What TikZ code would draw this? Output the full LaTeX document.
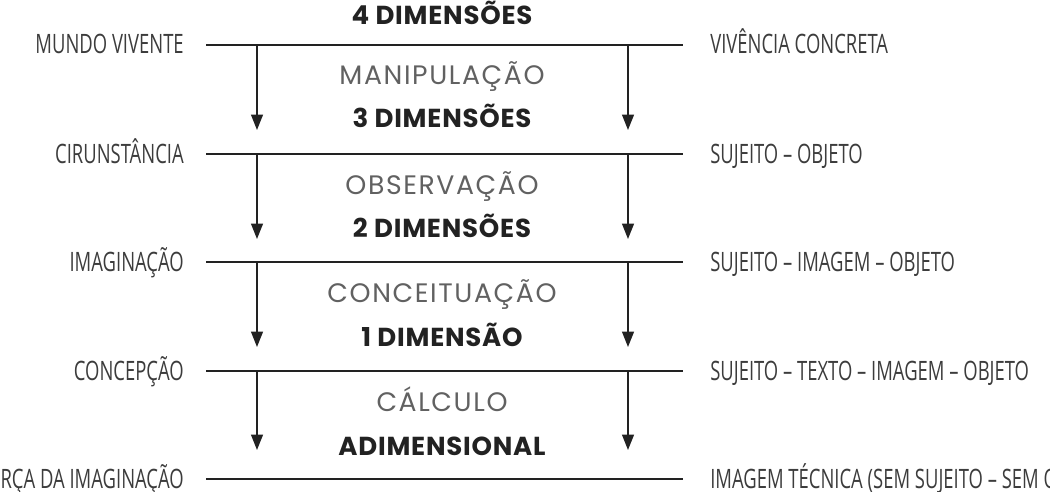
\documentclass[tikz,border=0pt]{standalone}
\usepackage{fontspec}
\usetikzlibrary{arrows.meta}
\newfontfamily\roundfont[LetterSpace=6]{Poppins}
\newfontfamily\roundboldfont[LetterSpace=3]{Poppins}
\newfontfamily\narrowfont[FakeStretch=0.69]{Open Sans}
\definecolor{labelgray}{HTML}{3C3C3C}
\definecolor{inkblack}{HTML}{222222}

\begin{document}
\begin{tikzpicture}[x=0.025cm, y=-0.025cm,
	side/.style={font=\narrowfont\fontsize{19}{19}\selectfont, text=labelgray, inner sep=0pt},
	dimtext/.style={font=\roundboldfont\bfseries\fontsize{18.5}{18.5}\selectfont, text=inkblack, inner sep=0pt, anchor=base},
	acttext/.style={font=\roundfont\fontsize{19}{19}\selectfont, text=black!62, inner sep=0pt, anchor=base},
	level/.style={line width=1.4pt, color=inkblack},
	flow/.style={line width=1.1pt, color=inkblack, -{Triangle[width=8.5pt,length=11pt]}}]
	%%%%% START %%%%%
	
	\useasboundingbox (0, 0) rectangle (1050, 492);
	\clip (0, 0) rectangle (1050, 492);
	
	% ends of the five levels
	\coordinate (w1) at (206, 45);  \coordinate (e1) at (683, 45);
	\coordinate (w2) at (206, 154); \coordinate (e2) at (683, 154);
	\coordinate (w3) at (206, 262); \coordinate (e3) at (683, 262);
	\coordinate (w4) at (206, 371); \coordinate (e4) at (683, 371);
	\coordinate (w5) at (206, 479); \coordinate (e5) at (683, 479);
	
	\draw[level] (w1) -- (e1);
	\draw[level] (w2) -- (e2);
	\draw[level] (w3) -- (e3);
	\draw[level] (w4) -- (e4);
	\draw[level] (w5) -- (e5);
	
	% left column
	\node[side, anchor=base east] (mundo) at (184, 54) {MUNDO VIVENTE};
	\node[side, anchor=base east] (circ) at (184, 163) {CIRUNSTÂNCIA};
	\node[side, anchor=base east] (imag) at (184, 271) {IMAGINAÇÃO};
	\node[side, anchor=base east] (conc) at (184, 380) {CONCEPÇÃO};
	\node[side, anchor=base east] (forca) at (184, 488) {FORÇA DA IMAGINAÇÃO};
	
	% right column
	\node[side, anchor=base west] (vivencia) at (710, 54) {VIVÊNCIA CONCRETA};
	\node[side, anchor=base west] (sujobj) at (710, 163) {SUJEITO – OBJETO};
	\node[side, anchor=base west] (sujimg) at (710, 271) {SUJEITO – IMAGEM – OBJETO};
	\node[side, anchor=base west] (sujtxt) at (710, 380) {SUJEITO – TEXTO – IMAGEM – OBJETO};
	\node[side, anchor=base west] (tecnica) at (710, 488) {IMAGEM TÉCNICA (SEM SUJEITO – SEM OBJETO)};
	
	% middle
	\node[dimtext] (dim4) at (442, 25) {4 DIMENSÕES};
	\node[acttext] (manip) at (442, 85) {MANIPULAÇÃO};
	\node[dimtext] (dim3) at (442, 128) {3 DIMENSÕES};
	\node[acttext] (obs) at (442, 194) {OBSERVAÇÃO};
	\node[dimtext] (dim2) at (442, 237) {2 DIMENSÕES};
	\node[acttext] (conceit) at (442, 302) {CONCEITUAÇÃO};
	\node[dimtext] (dim1) at (442, 346) {1 DIMENSÃO};
	\node[acttext] (calc) at (442, 411) {CÁLCULO};
	\node[dimtext] (dim0) at (442, 455) {ADIMENSIONAL};
	
	% arrows between levels
	\coordinate (la1) at (257, 45);  \coordinate (lb1) at (257, 130);
	\coordinate (la2) at (257, 154); \coordinate (lb2) at (257, 239);
	\coordinate (la3) at (257, 262); \coordinate (lb3) at (257, 347);
	\coordinate (la4) at (257, 371); \coordinate (lb4) at (257, 450);
	\coordinate (ra1) at (628, 45);  \coordinate (rb1) at (628, 130);
	\coordinate (ra2) at (628, 154); \coordinate (rb2) at (628, 239);
	\coordinate (ra3) at (628, 262); \coordinate (rb3) at (628, 347);
	\coordinate (ra4) at (628, 371); \coordinate (rb4) at (628, 450);
	
	\draw[flow] (la1) -- (lb1);
	\draw[flow] (la2) -- (lb2);
	\draw[flow] (la3) -- (lb3);
	\draw[flow] (la4) -- (lb4);
	\draw[flow] (ra1) -- (rb1);
	\draw[flow] (ra2) -- (rb2);
	\draw[flow] (ra3) -- (rb3);
	\draw[flow] (ra4) -- (rb4);
	
	%%%%% END %%%%%
\end{tikzpicture}
\end{document}
